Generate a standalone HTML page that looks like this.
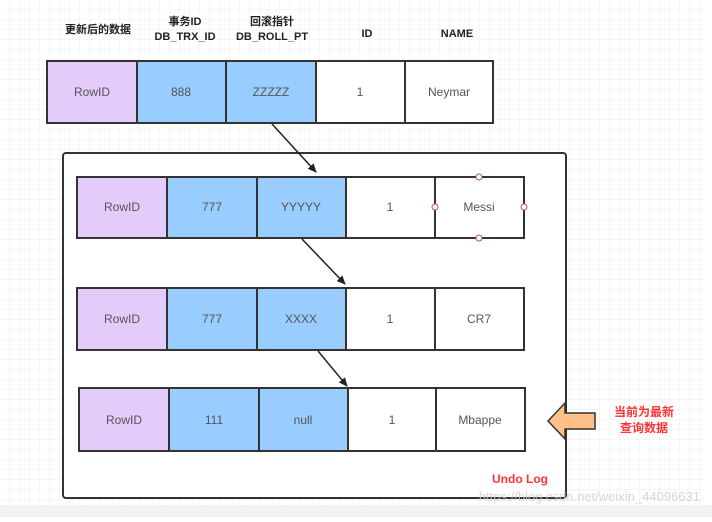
<!DOCTYPE html>
<html><head><meta charset="utf-8"><style>
body{margin:0;width:712px;height:517px;overflow:hidden;background:#fff;}
</style></head><body>
<svg width="712" height="517" xmlns="http://www.w3.org/2000/svg" font-family="Liberation Sans, Noto Sans CJK SC, sans-serif">
<defs>
<pattern id="g" width="10" height="10" patternUnits="userSpaceOnUse"><path d="M10 0V10H0" fill="none" stroke="#ececec" stroke-width="1"/></pattern>
<marker id="a" markerWidth="10" markerHeight="10" refX="8" refY="5" orient="auto" markerUnits="userSpaceOnUse"><path d="M0,1 L9,5 L0,9 Z" fill="#222"/></marker>
</defs>
<rect width="705" height="505" fill="url(#g)"/>
<rect y="505" width="712" height="12" fill="#f2f2f2"/>
<g font-size="11" font-weight="bold" fill="#222" text-anchor="middle">
<text x="98" y="33">更新后的数据</text>
<text x="185" y="25">事务ID</text><text x="185" y="40">DB_TRX_ID</text>
<text x="272" y="25">回滚指针</text><text x="272" y="40">DB_ROLL_PT</text>
<text x="367" y="37">ID</text><text x="457" y="37">NAME</text>
</g>
<rect x="63" y="153" width="503" height="345" rx="3" fill="#fff" stroke="#333" stroke-width="2"/>
<g stroke="#333" stroke-width="2" font-size="12" fill="#555" text-anchor="middle">
<g><rect x="47" y="61" width="90" height="62" fill="#e3ccfa"/><rect x="137" y="61" width="89" height="62" fill="#99ccff"/><rect x="226" y="61" width="90" height="62" fill="#99ccff"/><rect x="316" y="61" width="89" height="62" fill="#fff"/><rect x="405" y="61" width="88" height="62" fill="#fff"/></g>
<g><rect x="77" y="177" width="90" height="61" fill="#e3ccfa"/><rect x="167" y="177" width="90" height="61" fill="#99ccff"/><rect x="257" y="177" width="89" height="61" fill="#99ccff"/><rect x="346" y="177" width="89" height="61" fill="#fff"/><rect x="435" y="177" width="89" height="61" fill="#fff"/></g>
<g><rect x="77" y="288" width="90" height="62" fill="#e3ccfa"/><rect x="167" y="288" width="90" height="62" fill="#99ccff"/><rect x="257" y="288" width="89" height="62" fill="#99ccff"/><rect x="346" y="288" width="89" height="62" fill="#fff"/><rect x="435" y="288" width="89" height="62" fill="#fff"/></g>
<g><rect x="79" y="388" width="90" height="63" fill="#e3ccfa"/><rect x="169" y="388" width="90" height="63" fill="#99ccff"/><rect x="259" y="388" width="89" height="63" fill="#99ccff"/><rect x="348" y="388" width="88" height="63" fill="#fff"/><rect x="436" y="388" width="89" height="63" fill="#fff"/></g>
</g>
<g font-size="12" fill="#555" text-anchor="middle">
<text x="92" y="96">RowID</text><text x="181" y="96">888</text><text x="271" y="96">ZZZZZ</text><text x="360" y="96">1</text><text x="449" y="96">Neymar</text>
<text x="122" y="211">RowID</text><text x="212" y="211">777</text><text x="301" y="211">YYYYY</text><text x="390" y="211">1</text><text x="479" y="211">Messi</text>
<text x="122" y="323">RowID</text><text x="212" y="323">777</text><text x="301" y="323">XXXX</text><text x="390" y="323">1</text><text x="479" y="323">CR7</text>
<text x="124" y="424">RowID</text><text x="214" y="424">111</text><text x="303" y="424">null</text><text x="392" y="424">1</text><text x="480" y="424">Mbappe</text>
</g>
<g fill="#fff" stroke="#b85450" stroke-width="1">
<circle cx="479" cy="177" r="3"/><circle cx="435" cy="207" r="3"/><circle cx="524" cy="207" r="3"/><circle cx="479" cy="238" r="3"/>
</g>
<g stroke="#222" stroke-width="1.5" marker-end="url(#a)">
<line x1="272" y1="124" x2="316" y2="172"/>
<line x1="302" y1="239" x2="345" y2="284"/>
<line x1="318" y1="351" x2="347" y2="386"/>
</g>
<path d="M548,421 L565,403 L565,413 L595,413 L595,429 L565,429 L565,439 Z" fill="#ffc08a" stroke="#333" stroke-width="1.5"/>
<g font-size="12" font-weight="bold" fill="#ff3333" text-anchor="middle">
<text x="644" y="416">当前为最新</text><text x="644" y="432">查询数据</text>
<text x="520" y="483">Undo Log</text>
</g>
<text x="700" y="501" font-size="13" fill="#ccc" text-anchor="end" opacity="0.8">https://blog.csdn.net/weixin_44096631</text>
</svg>
</body></html>
